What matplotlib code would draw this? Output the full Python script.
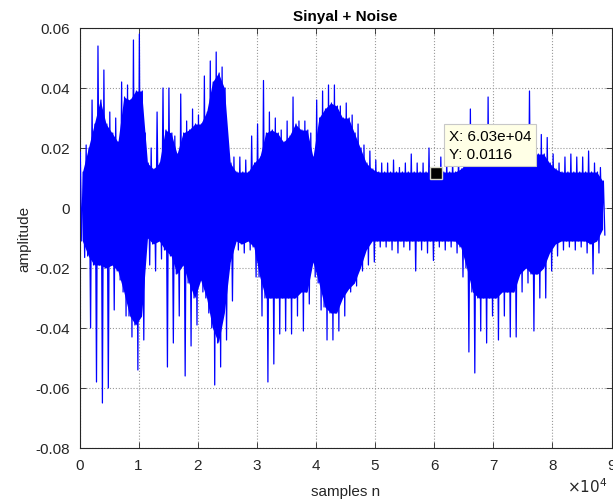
import numpy as np
import matplotlib
matplotlib.use("Agg")
import matplotlib.pyplot as plt

# envelope of the noisy signal, read per 1000-sample block
BLOCK = 1000

peak_hi = [
    0.0186, 0.021, 0.036, 0.054, 0.046, 0.032, 0.030, 0.042, 0.041, 0.056,
    0.058, 0.025, 0.020, 0.032, 0.040, 0.040, 0.024, 0.038, 0.029, 0.033,
    0.031, 0.044, 0.049, 0.052, 0.047, 0.019, 0.017, 0.017, 0.016, 0.024,
    0.028, 0.0425, 0.032, 0.030, 0.026, 0.029, 0.037, 0.029, 0.029, 0.025,
    0.036, 0.039, 0.041, 0.041, 0.034, 0.035, 0.031, 0.028, 0.021, 0.019,
    0.016, 0.015, 0.015, 0.016, 0.0135, 0.015, 0.018, 0.015, 0.015, 0.020,
    0.0135, 0.017, 0.016, 0.017, 0.018, 0.020, 0.033, 0.025, 0.025, 0.037,
    0.025, 0.025, 0.025, 0.024, 0.024, 0.022, 0.039, 0.025, 0.0245, 0.0235,
    0.018, 0.015, 0.017, 0.018, 0.017, 0.017, 0.019, 0.015, 0.0135,
]
peak_lo = [
    -0.0165, -0.040, -0.058, -0.065, -0.060, -0.034, -0.024, -0.036, -0.043, -0.054,
    -0.044, -0.019, -0.021, -0.017, -0.053, -0.045, -0.036, -0.056, -0.046, -0.039,
    -0.028, -0.035, -0.059, -0.053, -0.044, -0.031, -0.014, -0.015, -0.014, -0.023,
    -0.036, -0.058, -0.052, -0.042, -0.041, -0.042, -0.036, -0.041, -0.032, -0.023,
    -0.034, -0.044, -0.044, -0.041, -0.036, -0.028, -0.026, -0.021, -0.019, -0.018,
    -0.013, -0.013, -0.014, -0.015, -0.013, -0.014, -0.021, -0.014, -0.015, -0.0175,
    -0.013, -0.014, -0.013, -0.015, -0.023, -0.048, -0.055, -0.041, -0.045, -0.036,
    -0.044, -0.036, -0.043, -0.043, -0.028, -0.025, -0.041, -0.030, -0.030, -0.021,
    -0.016, -0.014, -0.013, -0.014, -0.013, -0.015, -0.022, -0.015, -0.009,
]
core_hi = [
    0.012, 0.020, 0.028, 0.036, 0.028, 0.025, 0.022, 0.037, 0.036, 0.039,
    0.039, 0.015, 0.013, 0.015, 0.026, 0.025, 0.018, 0.025, 0.026, 0.028,
    0.028, 0.032, 0.042, 0.045, 0.040, 0.015, 0.012, 0.012, 0.012, 0.015,
    0.017, 0.025, 0.026, 0.025, 0.022, 0.024, 0.028, 0.026, 0.026, 0.017,
    0.030, 0.033, 0.035, 0.034, 0.030, 0.030, 0.025, 0.020, 0.015, 0.013,
    0.012, 0.012, 0.012, 0.012, 0.012, 0.012, 0.012, 0.012, 0.012, 0.012,
    0.012, 0.012, 0.012, 0.012, 0.013, 0.015, 0.018, 0.018, 0.018, 0.018,
    0.018, 0.018, 0.018, 0.017, 0.016, 0.016, 0.018, 0.018, 0.018, 0.015,
    0.013, 0.012, 0.012, 0.012, 0.012, 0.012, 0.012, 0.012, 0.009,
]
core_lo = [
    -0.011, -0.016, -0.019, -0.019, -0.020, -0.019, -0.021, -0.028, -0.036, -0.039,
    -0.036, -0.010, -0.012, -0.011, -0.014, -0.016, -0.022, -0.019, -0.025, -0.030,
    -0.024, -0.030, -0.040, -0.045, -0.035, -0.018, -0.011, -0.012, -0.011, -0.013,
    -0.023, -0.030, -0.030, -0.030, -0.030, -0.030, -0.030, -0.028, -0.028, -0.018,
    -0.025, -0.033, -0.035, -0.035, -0.030, -0.027, -0.025, -0.020, -0.014, -0.011,
    -0.011, -0.011, -0.011, -0.011, -0.011, -0.011, -0.011, -0.011, -0.011, -0.011,
    -0.011, -0.011, -0.011, -0.011, -0.013, -0.020, -0.028, -0.030, -0.030, -0.030,
    -0.030, -0.028, -0.028, -0.028, -0.022, -0.020, -0.022, -0.022, -0.020, -0.015,
    -0.012, -0.011, -0.011, -0.011, -0.011, -0.011, -0.012, -0.011, -0.007,
]

# data tip shown on the figure
TIP_X = 60300
TIP_Y = 0.0116
TIP_TEXT = "X: 6.03e+04\nY: 0.0116"

X_TICKS = [0, 10000, 20000, 30000, 40000, 50000, 60000, 70000, 80000, 90000]
X_TICK_LABELS = ["0", "1", "2", "3", "4", "5", "6", "7", "8", "9"]
Y_TICKS = [-0.08, -0.06, -0.04, -0.02, 0, 0.02, 0.04, 0.06]
Y_TICK_LABELS = ["-0.08", "-0.06", "-0.04", "-0.02", "0", "0.02", "0.04", "0.06"]

TEXT_COLOR = "#262626"
BLUE = (0, 0, 1)

plt.rcParams["font.family"] = ["Liberation Sans", "DejaVu Sans"]

fig = plt.figure(figsize=(6.13, 5.02), dpi=100)
ax = fig.add_axes([79.5 / 613, 53 / 502, (611.5 - 79.5) / 613, (473 - 53) / 502])

start = np.arange(len(peak_hi)) * BLOCK

# solid body of the waveform
ax.fill_between(start + BLOCK / 2, core_lo, core_hi,
                color=BLUE, linewidth=0, zorder=2)

# the trace itself: swings through peak and body values of every block
n_pts = 4 * len(start)
trace_x = np.empty(n_pts)
trace_y = np.empty(n_pts)
trace_x[0::4] = start + BLOCK * 0.125
trace_x[1::4] = start + BLOCK * 0.375
trace_x[2::4] = start + BLOCK * 0.625
trace_x[3::4] = start + BLOCK * 0.875
trace_y[0::4] = peak_hi
trace_y[1::4] = core_lo
trace_y[2::4] = core_hi
trace_y[3::4] = peak_lo
ax.plot(trace_x, trace_y, color=BLUE, linewidth=0.9, zorder=3)

ax.set_xlim(0, 90000)
ax.set_ylim(-0.08, 0.06)
ax.set_xticks(X_TICKS)
ax.set_xticklabels(X_TICK_LABELS)
ax.set_yticks(Y_TICKS)
ax.set_yticklabels(Y_TICK_LABELS)

ax.tick_params(direction="in", top=True, right=True, length=4, width=0.6,
               labelsize=11, colors=TEXT_COLOR, pad=7)
for spine in ax.spines.values():
    spine.set_color(TEXT_COLOR)
    spine.set_linewidth(0.8)

ax.grid(True, linestyle=":", color="#9a9a9a", linewidth=0.8)
ax.set_axisbelow(True)

ax.set_title("Sinyal + Noise", fontsize=11, fontweight="bold", color="black", pad=6)
ax.set_xlabel("samples n", fontsize=11, color=TEXT_COLOR, labelpad=9)
ax.set_ylabel("amplitude", fontsize=11, color=TEXT_COLOR, labelpad=3)

ax.text(0.993, -0.068, r"$\times10^{4}$", transform=ax.transAxes, fontsize=11,
        color=TEXT_COLOR, ha="right", va="top")

# data tip marker and label
ax.plot([TIP_X], [TIP_Y], marker="s", markersize=8, color="black",
        markeredgecolor="#d8d8c8", markeredgewidth=1.0, zorder=5)
ax.annotate(TIP_TEXT, xy=(TIP_X, TIP_Y), xytext=(13, 12), textcoords="offset pixels",
            ha="left", va="bottom", fontsize=11, color="black", linespacing=1.4,
            bbox=dict(boxstyle="square,pad=0.3", facecolor="#ffffe6",
                      edgecolor="#c8c8c8", linewidth=0.8),
            zorder=6)

fig.savefig("out.png", dpi=100)
